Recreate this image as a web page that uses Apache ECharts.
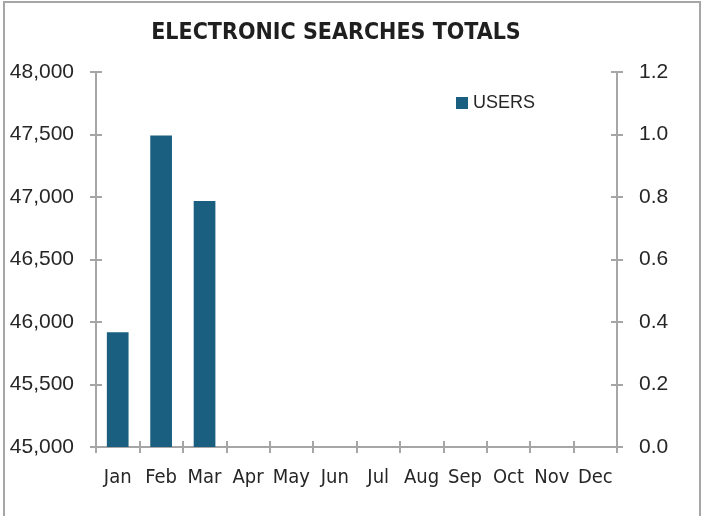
<!DOCTYPE html>
<html><head><meta charset="utf-8">
<script src="https://cdn.jsdelivr.net/npm/echarts@6/dist/echarts.min.js"></script>
<style>html,body{margin:0;padding:0;background:#fff}#c{width:705px;height:516px}</style>
</head><body><div id="c"></div>
<script>
const title = 'ELECTRONIC SEARCHES TOTALS';
const categories = ['Jan','Feb','Mar','Apr','May','Jun','Jul','Aug','Sep','Oct','Nov','Dec'];
const seriesName = 'USERS';
const users = [45918, 47492, 46968, null, null, null, null, null, null, null, null, null];
const leftMin = 45000, leftMax = 48000, leftStep = 500;
const rightMin = 0, rightMax = 1.2, rightStep = 0.2;

const axisCol = '#a6a6a6';
const txt = '#262626';
const narrow = '"DejaVu Sans Condensed", "Liberation Sans Narrow", sans-serif';
const reg = '"Liberation Sans", Arial, sans-serif';
const chart = echarts.init(document.getElementById('c'));
const yBase = (pos, min, max, step, fmt, inside, showLabel) => ({
  type: 'value', position: pos, min: min, max: max, interval: step,
  splitLine: {show: false},
  axisLine: {show: true, lineStyle: {color: axisCol, width: 2}},
  axisTick: {show: true, inside: inside, length: 6, lineStyle: {color: axisCol, width: 2}},
  axisLabel: {show: showLabel, formatter: fmt, color: txt, fontSize: 21, margin: 22, fontFamily: reg}
});
const xBase = (inside, showLabel) => ({
  type: 'category', data: categories, position: 'bottom',
  axisLine: {show: true, lineStyle: {color: axisCol, width: 2}},
  axisTick: {show: true, inside: inside, length: 6, alignWithLabel: false, lineStyle: {color: axisCol, width: 2}},
  axisLabel: {show: showLabel, color: txt, fontSize: 20, margin: 21, interval: 0, fontFamily: narrow},
  splitLine: {show: false}
});
const fmtL = v => v.toLocaleString('en-US');
const fmtR = v => v.toFixed(1);
chart.setOption({
  animation: false,
  legend: {data: [seriesName], left: 451, top: 89, itemWidth: 12, itemHeight: 12, itemGap: 6,
    icon: 'rect', textStyle: {color: txt, fontSize: 18, fontFamily: reg}},
  grid: {left: 96, right: 88, top: 72, bottom: 69},
  xAxis: [xBase(false, true), xBase(true, false)],
  yAxis: [
    yBase('left', leftMin, leftMax, leftStep, fmtL, false, true),
    yBase('right', rightMin, rightMax, rightStep, fmtR, false, true),
    yBase('left', leftMin, leftMax, leftStep, fmtL, true, false),
    yBase('right', rightMin, rightMax, rightStep, fmtR, true, false)
  ],
  series: [{
    name: seriesName, type: 'bar', data: users, xAxisIndex: 0, yAxisIndex: 0,
    barWidth: '50%', itemStyle: {color: '#1a5f80'}
  }],
  graphic: [
    {type: 'rect', shape: {x: 4, y: 2, width: 696, height: 530},
      style: {fill: 'none', stroke: '#a6a6a6', lineWidth: 2}, silent: true},
    {type: 'text', x: 336, y: 33, silent: true,
      style: {text: title, fill: '#1f1f1f', font: 'bold 23px ' + narrow, textAlign: 'center', textVerticalAlign: 'middle'}}
  ]
});
</script></body></html>
